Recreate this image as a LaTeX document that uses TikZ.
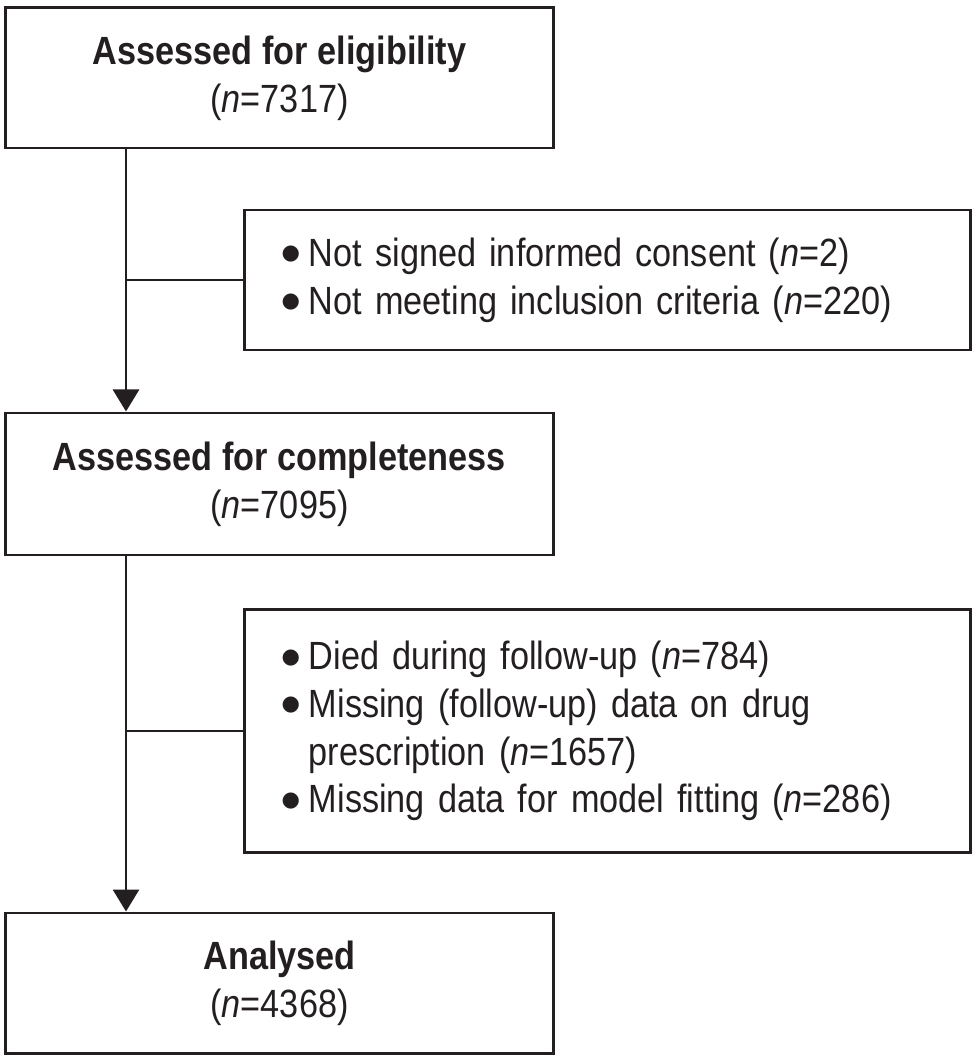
\documentclass[tikz,border=0pt]{standalone}
\usepackage{fontspec}
\setmainfont{Liberation Sans}[FakeStretch=0.87]
\newfontfamily\symfont{DejaVu Sans}
\usetikzlibrary{arrows.meta, calc, positioning}
\definecolor{ink}{HTML}{231F20}
\newcommand{\bul}{\makebox[0.7cm][l]{\hspace{0.02cm}{\symfont\fontsize{15}{15}\selectfont\raisebox{4.5pt}{●}}}}

\begin{document}
\begin{tikzpicture}[line cap=butt,line join=miter,x=0.025cm,y=-0.025cm,
  every node/.style={font=\fontsize{28}{34}\selectfont, text=ink},
  box/.style={draw=ink, line width=2.1pt, inner sep=0pt},
  mainbox/.style={box, align=center, minimum width=13.675cm, minimum height=3.5cm},
  exclbox/.style={box, align=left, inner xsep=0.9cm, text width=16.325cm},
  flow/.style={draw=ink, line width=2.1pt}]
\useasboundingbox (0,0) rectangle (979,1062);

% main steps
\node[mainbox] (elig) at (279.5,78) {\textbf{Assessed for eligibility}\\(\textit{n}=7317)};
\node[mainbox, minimum height=3.55cm] (compl) at (279.5,484) {\textbf{Assessed for completeness}\\(\textit{n}=7095)};
\node[mainbox] (anal) at (279.5,983) {\textbf{Analysed}\\(\textit{n}=4368)};

% exclusions
\node[exclbox, minimum height=3.5cm] (excl1) at (607.5,280)
  {\bul Not signed informed consent (\textit{n}=2)\\
   \bul Not meeting inclusion criteria (\textit{n}=220)};
\node[exclbox, minimum height=6.05cm] (excl2) at (607.5,731)
  {\bul Died during follow-up (\textit{n}=784)\\
   \bul Missing (follow-up) data on drug\\
   \hspace*{0.7cm}prescription (\textit{n}=1657)\\
   \bul Missing data for model fitting (\textit{n}=286)};

% spine of the flow
\coordinate (spine) at (126,0);

\draw[flow, -{Triangle[width=0.65cm,length=0.55cm]}] (elig.south -| spine) -- (compl.north -| spine);
\draw[flow, -{Triangle[width=0.65cm,length=0.55cm]}] (compl.south -| spine) -- (anal.north -| spine);

\draw[flow] (excl1.west -| spine) -- (excl1.west);
\draw[flow] (excl2.west -| spine) -- (excl2.west);

\end{tikzpicture}
\end{document}
